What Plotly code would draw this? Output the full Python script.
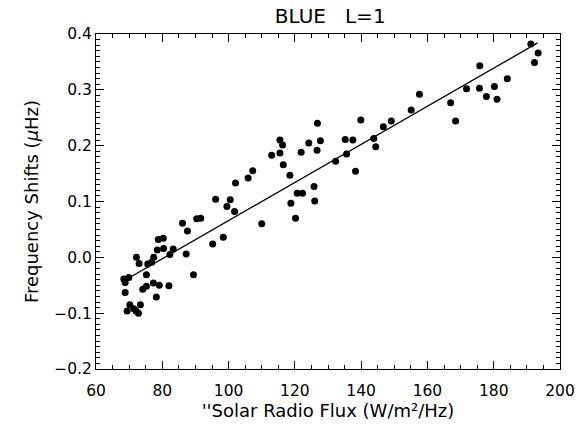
import plotly.graph_objects as go

flux = [72.2, 73.0, 68.4, 68.8, 69.9, 68.8, 70.2, 69.4, 71.4, 72.1, 72.8, 73.4,
        75.2, 75.6, 76.8, 77.4, 78.5, 78.8, 80.3, 80.4, 83.3, 82.3, 87.2, 86.1,
        87.6, 90.4, 91.6, 74.1, 75.2, 77.3, 79.1, 78.2, 82.0, 89.4, 95.2, 98.4,
        96.1, 100.5, 99.5, 101.8, 102.1, 105.9, 107.3, 110.0, 113.0, 115.5, 115.5,
        116.3, 116.5, 118.5, 121.9, 124.2, 126.8, 127.7, 126.7, 125.8, 132.3,
        135.2, 135.6, 137.5, 138.3, 139.9, 143.8, 144.4, 146.7, 149.1, 155.1,
        157.6, 167.0, 168.5, 171.8, 175.8, 175.7, 177.8, 180.2, 181.0, 184.1,
        191.2, 193.4, 192.3, 118.8, 120.2, 120.7, 122.3, 126.0]
shift = [0.000, -0.011, -0.039, -0.045, -0.036, -0.063, -0.085, -0.096, -0.092,
         -0.096, -0.100, -0.085, -0.031, -0.012, -0.009, 0.000, 0.013, 0.032,
         0.034, 0.016, 0.015, 0.005, 0.006, 0.061, 0.047, 0.069, 0.070, -0.057,
         -0.052, -0.046, -0.050, -0.071, -0.051, -0.031, 0.024, 0.036, 0.104,
         0.103, 0.091, 0.082, 0.133, 0.142, 0.155, 0.060, 0.183, 0.187, 0.210,
         0.201, 0.166, 0.147, 0.188, 0.205, 0.240, 0.209, 0.192, 0.127, 0.172,
         0.211, 0.185, 0.210, 0.154, 0.246, 0.213, 0.198, 0.234, 0.244, 0.264,
         0.292, 0.277, 0.244, 0.302, 0.343, 0.303, 0.288, 0.306, 0.283, 0.320,
         0.382, 0.366, 0.349, 0.097, 0.070, 0.115, 0.115, 0.101]
fit_x = [69.9, 193.2]
fit_y = [-0.037, 0.384]

FONT = "DejaVu Sans"

fig = go.Figure()
fig.add_trace(go.Scatter(x=flux, y=shift, mode="markers",
                         marker=dict(color="black", size=7), showlegend=False))
fig.add_trace(go.Scatter(x=fit_x, y=fit_y, mode="lines",
                         line=dict(color="black", width=1.3), showlegend=False))

axis_common = dict(showline=True, linecolor="black", linewidth=1, mirror="allticks",
                   ticks="inside", tickcolor="black", tickwidth=1, ticklen=8,
                   showgrid=False, zeroline=False,
                   tickfont=dict(family=FONT, size=15.5, color="black"))

fig.update_xaxes(range=[60, 200], tick0=60, dtick=20, ticklabelstandoff=7,
                 minor=dict(ticks="inside", dtick=5, ticklen=4, tickcolor="black"),
                 title=dict(text="''Solar Radio Flux (W/m²/Hz)",
                            font=dict(family=FONT, size=18, color="black"), standoff=4),
                 **axis_common)
fig.update_yaxes(range=[-0.2, 0.4], tick0=-0.2, dtick=0.1, tickformat=".1f",
                 minor=dict(ticks="inside", dtick=0.01, ticklen=4, tickcolor="black"),
                 title=dict(text="Frequency Shifts (<i>μ</i>Hz)",
                            font=dict(family=FONT, size=18, color="black"), standoff=10),
                 **axis_common)

fig.update_layout(
    width=587, height=429,
    margin=dict(l=96, r=23, t=34, b=60),
    paper_bgcolor="white", plot_bgcolor="white",
    title=dict(text="BLUE   L=1", x=0.5625, xanchor="center", y=0.963, yanchor="middle",
               font=dict(family=FONT, size=20, color="black")),
)

fig.write_html("out.html")
